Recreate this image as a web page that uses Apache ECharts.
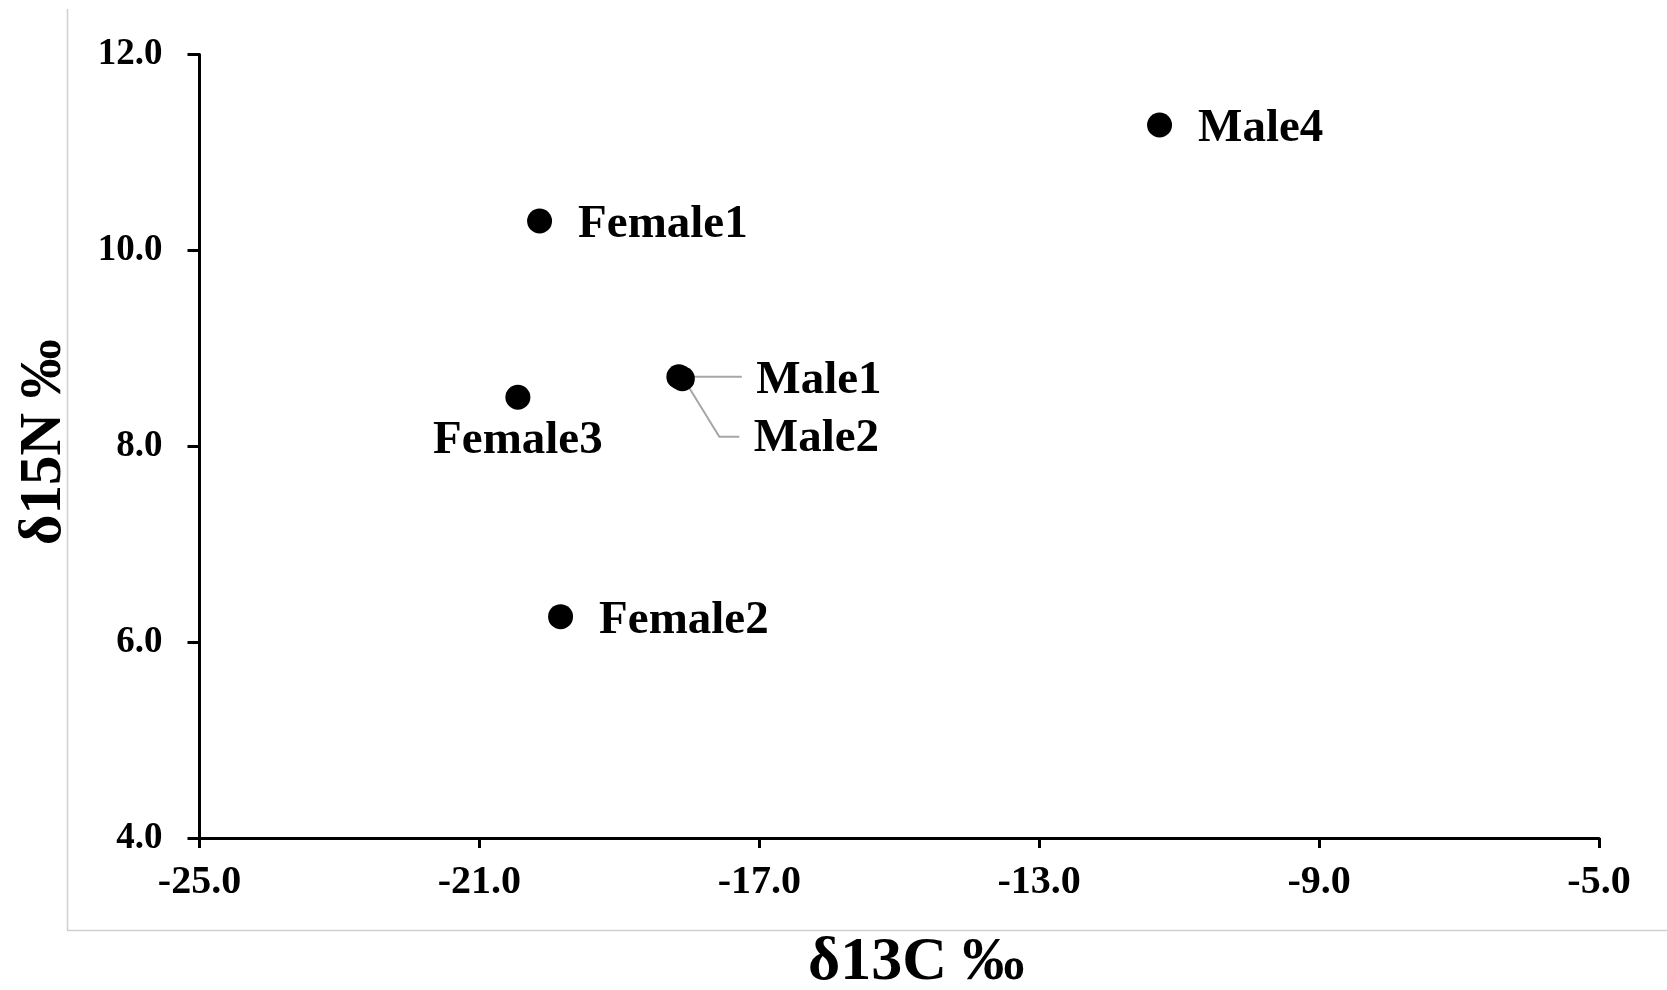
<!DOCTYPE html>
<html>
<head>
<meta charset="utf-8">
<title>δ13C vs δ15N</title>
<script src="https://cdn.jsdelivr.net/npm/echarts@6/dist/echarts.min.js"></script>
<style>
  html, body { margin: 0; padding: 0; background: #fff; }
  #chart { width: 1667px; height: 990px; }
</style>
</head>
<body>
<div id="chart"></div>
<script>
// Individuals and their isotope values
const names = ['Female1', 'Female2', 'Female3', 'Male1', 'Male2', 'Male4'];
const d13C = [-20.14, -19.84, -20.45, -18.15, -18.10, -11.28];
const d15N = [10.30, 6.26, 8.50, 8.71, 8.69, 11.28];

// Axis ticks
const xTicks = [-25, -21, -17, -13, -9, -5];
const yTicks = [4, 6, 8, 10, 12];

const FONT = '"Liberation Serif", "Times New Roman", serif';

// Label placement per point (default: to the right of the marker)
const labelOverrides = {
  Female3: { position: 'bottom', distance: 8, offset: [0, 0] },
  Male1: { position: 'right', distance: 65, offset: [0, 4] },
  Male2: { position: 'right', distance: 59, offset: [0, 60] }
};
// Leader line bends, in pixels relative to the marker centre
const leaderPaths = {
  Male1: [[10, 0], [63, 0]],
  Male2: [[5, 6], [37, 58], [57, 58]]
};

const seriesData = names.map((n, i) => {
  const item = { name: n, value: [d13C[i], d15N[i]] };
  if (labelOverrides[n]) item.label = labelOverrides[n];
  return item;
});

const leaderData = names
  .map((n, i) => ({ name: n, value: [d13C[i], d15N[i]] }))
  .filter(d => leaderPaths[d.name]);

const chart = echarts.init(document.getElementById('chart'), null, { renderer: 'canvas' });

chart.setOption({
  animation: false,
  backgroundColor: '#ffffff',
  grid: {
    left: 199.5, right: 68, top: 54.5, bottom: 152,
    containLabel: false,
    outerBoundsMode: 'none'
  },
  graphic: [{
    type: 'polyline',
    silent: true,
    shape: { points: [[67.5, 9], [67.5, 930.5], [1667, 930.5]] },
    style: { stroke: '#d0d0d0', lineWidth: 1.5, fill: null }
  }],
  xAxis: {
    type: 'value',
    min: xTicks[0],
    max: xTicks[xTicks.length - 1],
    interval: xTicks[1] - xTicks[0],
    name: 'δ13C ‰',
    nameLocation: 'middle',
    nameGap: 94,
    nameTextStyle: { fontFamily: FONT, fontWeight: 'bold', fontSize: 62, color: '#000', padding: [0, 0, 0, 34] },
    axisLine: { onZero: false, lineStyle: { color: '#000', width: 3 } },
    axisTick: { show: true, inside: false, length: 10, lineStyle: { color: '#000', width: 3 } },
    axisLabel: {
      margin: 25,
      fontFamily: FONT, fontWeight: 'bold', fontSize: 40, color: '#000',
      formatter: v => v.toFixed(1)
    },
    splitLine: { show: false }
  },
  yAxis: {
    type: 'value',
    min: yTicks[0],
    max: yTicks[yTicks.length - 1],
    interval: yTicks[1] - yTicks[0],
    name: 'δ15N ‰',
    nameLocation: 'middle',
    nameGap: 125,
    nameRotate: 90,
    nameTextStyle: { fontFamily: FONT, fontWeight: 'bold', fontSize: 59, color: '#000', padding: [0, 0, 0, 8] },
    axisLine: { onZero: false, lineStyle: { color: '#000', width: 3 } },
    axisTick: { show: true, inside: false, length: 12, lineStyle: { color: '#000', width: 3 } },
    axisLabel: {
      margin: 37,
      fontFamily: FONT, fontWeight: 'bold', fontSize: 37, color: '#000',
      formatter: v => v.toFixed(1)
    },
    splitLine: { show: false }
  },
  series: [{
    // grey leader lines from the overlapping male markers to their labels
    type: 'custom',
    silent: true,
    z: 2,
    data: leaderData,
    renderItem: (params, api) => {
      const p = api.coord([api.value(0), api.value(1)]);
      const path = leaderPaths[leaderData[params.dataIndex].name];
      return {
        type: 'polyline',
        shape: { points: path.map(o => [p[0] + o[0], p[1] + o[1]]) },
        style: { stroke: '#a6a6a6', lineWidth: 2, fill: null }
      };
    }
  }, {
    type: 'scatter',
    symbol: 'circle',
    symbolSize: 25,
    itemStyle: { color: '#000', opacity: 1 },
    emphasis: { disabled: true },
    label: {
      show: true,
      position: 'right',
      distance: 26,
      offset: [0, 4],
      formatter: '{b}',
      fontFamily: FONT,
      fontWeight: 'bold',
      fontSize: 47,
      color: '#000'
    },
    data: seriesData,
    z: 3
  }]
});
</script>
</body>
</html>
